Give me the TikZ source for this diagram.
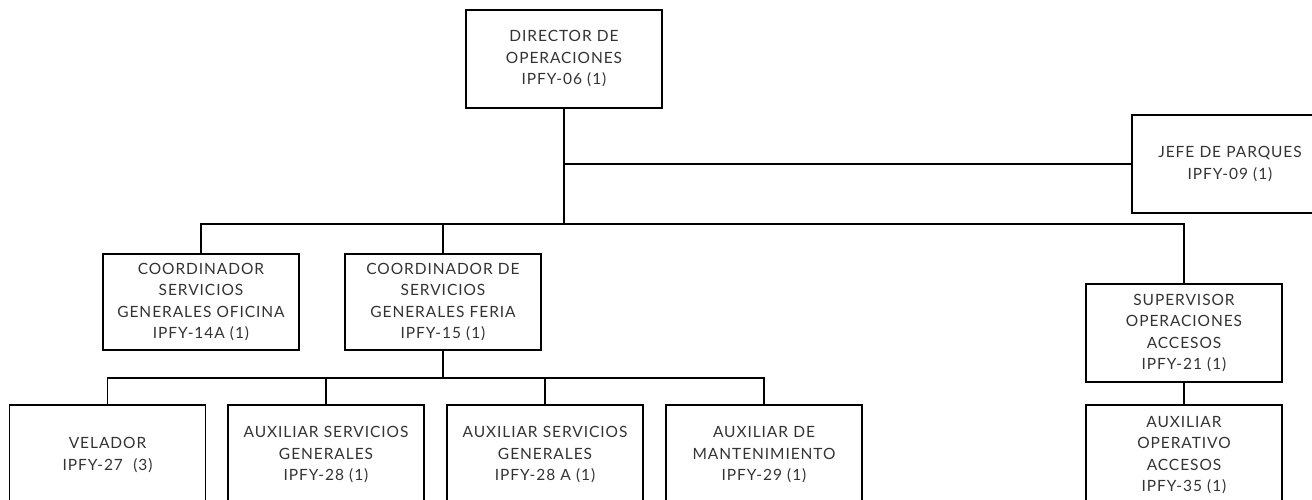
\documentclass[tikz,border=0pt]{standalone}
\usepackage{fontspec}
\setmainfont{Lato}[LetterSpace=6]
\usetikzlibrary{positioning}
\definecolor{textogris}{HTML}{333333}

\begin{document}
\begin{tikzpicture}[x=1pt, y=-1pt,
        puesto/.style={draw=black, line width=1.4pt, minimum width=196pt, minimum height=98pt,
            text width=192pt, align=center, inner sep=0pt, text=textogris,
            font=\fontsize{15.5}{21.5}\selectfont},
        linea/.style={line width=1.4pt}]
        \useasboundingbox (0,0) rectangle (1312,499);
        \clip (0,0) rectangle (1312,499);
        % puestos
        \node [puesto] (dir) at (564,59) {DIRECTOR DE\\OPERACIONES\\IPFY-06 (1)};
        \node [puesto] (jefe) at (1230,164) {JEFE DE PARQUES\\IPFY-09 (1)};
        \node [puesto, minimum height=96pt] (coordO) at (201,302) {COORDINADOR\\SERVICIOS\\GENERALES OFICINA\\IPFY-14A (1)};
        \node [puesto, minimum height=96pt] (coordF) at (443,302) {COORDINADOR DE\\SERVICIOS\\GENERALES FERIA\\IPFY-15 (1)};
        \node [puesto] (sup) at (1184,333) {SUPERVISOR\\OPERACIONES\\ACCESOS\\IPFY-21 (1)};
        \node [puesto, minimum height=100pt] (vel) at (107.5,455) {VELADOR\\IPFY-27 \ (3)};
        \node [puesto, minimum height=100pt] (aux28) at (326,455) {AUXILIAR SERVICIOS\\GENERALES\\IPFY-28 (1)};
        \node [puesto, minimum height=100pt] (aux28a) at (545,455) {AUXILIAR SERVICIOS\\GENERALES\\IPFY-28 A (1)};
        \node [puesto, minimum height=100pt] (mant) at (764,455) {AUXILIAR DE\\MANTENIMIENTO\\IPFY-29 (1)};
        \node [puesto, minimum height=100pt] (auxop) at (1184,455) {AUXILIAR\\OPERATIVO\\ACCESOS\\IPFY-35 (1)};
        % lineas
        \coordinate (bus) at (564,224);
        \coordinate (bus2) at (443,378);
        \draw [linea] (dir.south) -- (bus);
        \draw [linea] (jefe.west) -- (jefe.west -| bus);
        \draw [linea] (coordO.north) |- (bus) -| (sup.north);
        \draw [linea] (coordF.north) -- (coordF.north |- bus);
        \draw [linea] (coordF.south) -- (bus2);
        \draw [linea] (vel.north) |- (bus2) -| (mant.north);
        \draw [linea] (aux28.north) -- (aux28.north |- bus2);
        \draw [linea] (aux28a.north) -- (aux28a.north |- bus2);
        \draw [linea] (sup.south) -- (auxop.north);
    \end{tikzpicture}
\end{document}
